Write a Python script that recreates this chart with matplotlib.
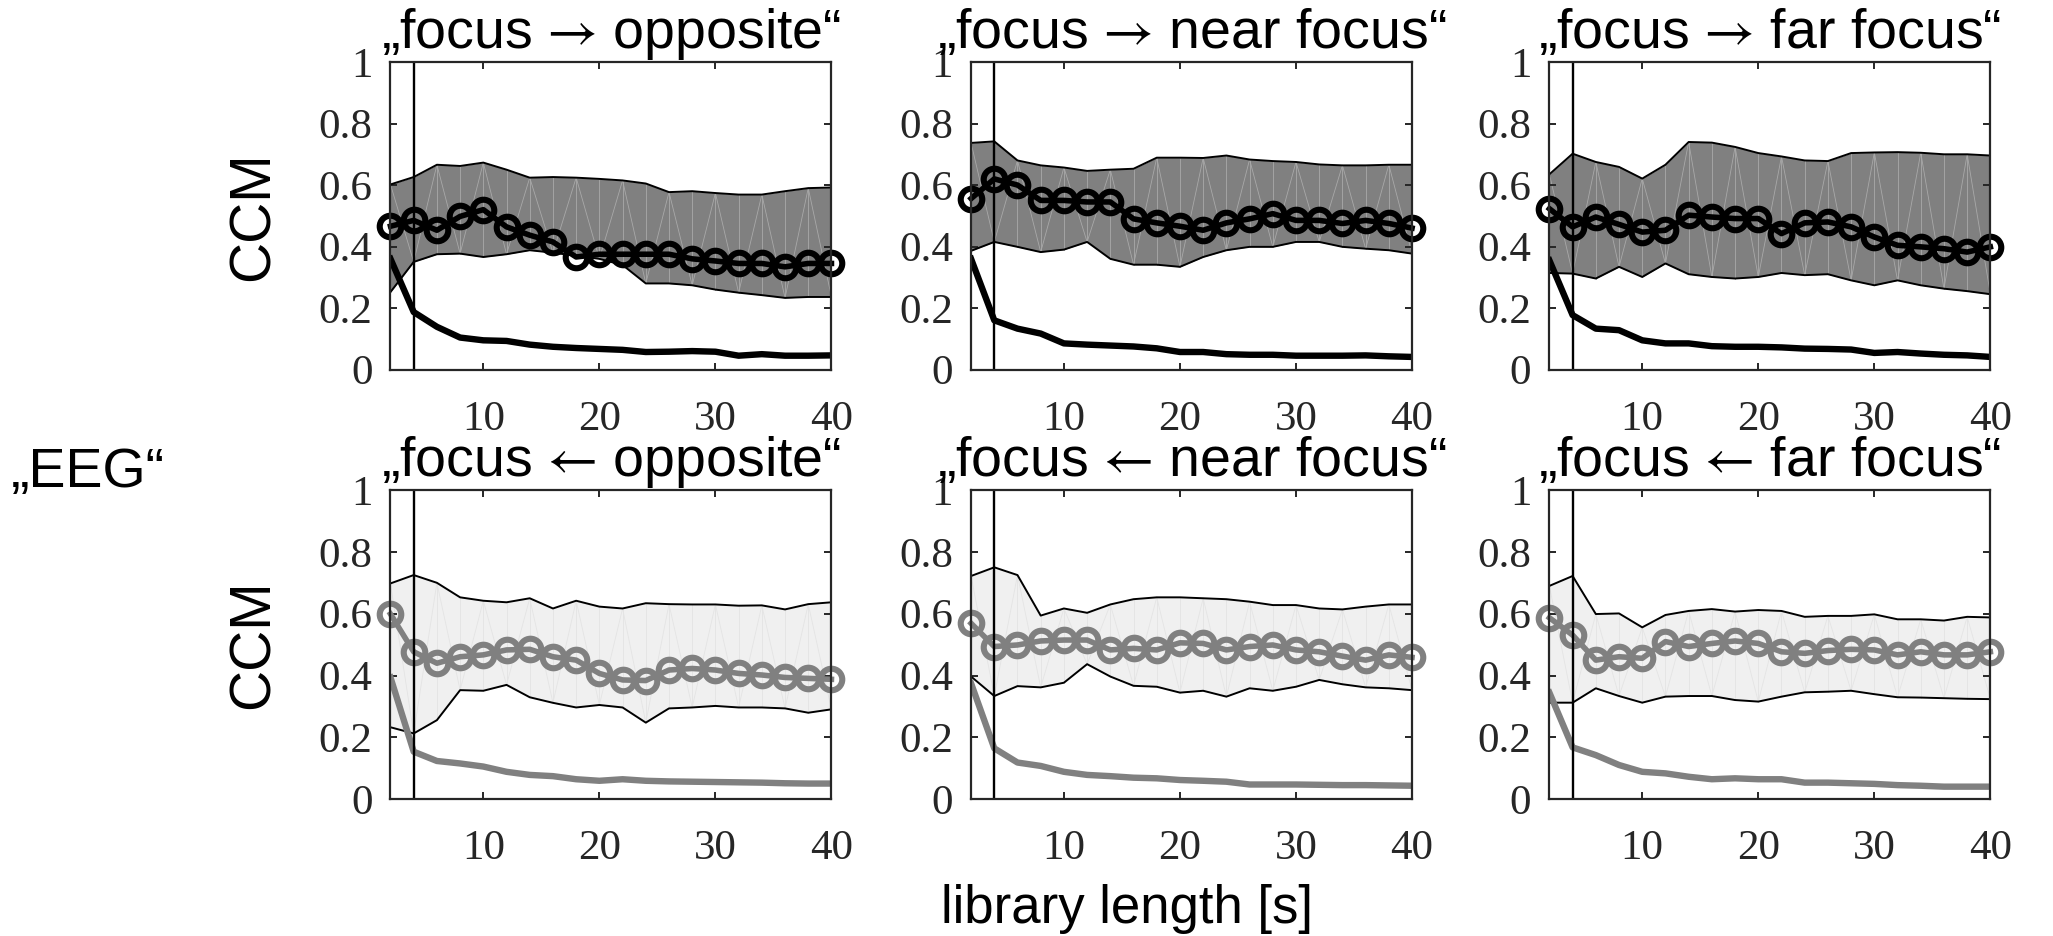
import matplotlib
matplotlib.use('Agg')
import matplotlib.pyplot as plt
import numpy as np

plt.rcParams['mathtext.fontset'] = 'stix'

# library length [s]
lib_len = [2, 4, 6, 8, 10, 12, 14, 16, 18, 20, 22, 24, 26, 28, 30, 32, 34, 36, 38, 40]

# "focus -> opposite"
fo_mean = [0.466, 0.485, 0.453, 0.498, 0.52, 0.464, 0.437, 0.415, 0.366, 0.375,
           0.375, 0.375, 0.375, 0.36, 0.353, 0.345, 0.345, 0.334, 0.345, 0.345]
fo_upper = [0.602, 0.626, 0.666, 0.662, 0.673, 0.65, 0.624, 0.626, 0.624, 0.62,
            0.615, 0.605, 0.577, 0.58, 0.574, 0.569, 0.569, 0.58, 0.59, 0.592]
fo_lower = [0.252, 0.35, 0.375, 0.377, 0.366, 0.375, 0.388, 0.38, 0.37, 0.36,
            0.34, 0.28, 0.28, 0.274, 0.26, 0.25, 0.242, 0.233, 0.236, 0.236]
fo_null = [0.36, 0.187, 0.139, 0.104, 0.095, 0.093, 0.081, 0.074, 0.07, 0.067,
           0.064, 0.057, 0.058, 0.06, 0.058, 0.045, 0.05, 0.045, 0.045, 0.046]

# "focus -> near focus"
fn_mean = [0.556, 0.62, 0.6, 0.55, 0.55, 0.545, 0.545, 0.49, 0.477, 0.466,
           0.453, 0.477, 0.49, 0.507, 0.485, 0.485, 0.475, 0.485, 0.475, 0.46]
fn_upper = [0.737, 0.742, 0.68, 0.664, 0.657, 0.646, 0.65, 0.653, 0.689, 0.689,
            0.688, 0.696, 0.683, 0.678, 0.675, 0.667, 0.664, 0.664, 0.666, 0.666]
fn_lower = [0.386, 0.415, 0.399, 0.382, 0.39, 0.415, 0.36, 0.341, 0.341, 0.334,
            0.366, 0.388, 0.399, 0.399, 0.415, 0.415, 0.399, 0.393, 0.388, 0.377]
fn_null = [0.36, 0.16, 0.133, 0.117, 0.085, 0.081, 0.078, 0.075, 0.069, 0.057,
           0.057, 0.05, 0.048, 0.048, 0.045, 0.045, 0.045, 0.046, 0.043, 0.041]

# "focus -> far focus"
ff_mean = [0.523, 0.464, 0.496, 0.472, 0.447, 0.453, 0.502, 0.496, 0.491, 0.491,
           0.442, 0.477, 0.48, 0.464, 0.431, 0.404, 0.399, 0.393, 0.382, 0.399]
ff_upper = [0.635, 0.702, 0.675, 0.659, 0.621, 0.666, 0.74, 0.738, 0.724, 0.704,
            0.693, 0.68, 0.678, 0.704, 0.706, 0.707, 0.705, 0.7, 0.7, 0.696]
ff_lower = [0.314, 0.312, 0.296, 0.334, 0.301, 0.345, 0.31, 0.301, 0.296, 0.301,
            0.314, 0.307, 0.31, 0.29, 0.274, 0.29, 0.274, 0.263, 0.255, 0.245]
ff_null = [0.355, 0.177, 0.133, 0.128, 0.095, 0.085, 0.085, 0.076, 0.074, 0.074,
           0.072, 0.068, 0.067, 0.065, 0.054, 0.057, 0.052, 0.048, 0.046, 0.041]

# "focus <- opposite"
bo_mean = [0.599, 0.477, 0.44, 0.461, 0.467, 0.483, 0.485, 0.461, 0.45, 0.407,
           0.386, 0.384, 0.418, 0.423, 0.418, 0.407, 0.402, 0.394, 0.391, 0.388]
bo_upper = [0.698, 0.725, 0.7, 0.653, 0.642, 0.637, 0.65, 0.617, 0.642, 0.623,
            0.617, 0.634, 0.631, 0.63, 0.63, 0.626, 0.627, 0.614, 0.631, 0.637]
bo_lower = [0.233, 0.213, 0.256, 0.353, 0.351, 0.37, 0.33, 0.312, 0.297, 0.305,
            0.297, 0.248, 0.294, 0.297, 0.302, 0.297, 0.297, 0.294, 0.28, 0.291]
bo_null = [0.394, 0.154, 0.124, 0.116, 0.106, 0.089, 0.079, 0.075, 0.065, 0.06,
           0.065, 0.06, 0.058, 0.057, 0.056, 0.055, 0.054, 0.052, 0.051, 0.051]

# "focus <- near focus"
bn_mean = [0.569, 0.494, 0.499, 0.512, 0.515, 0.515, 0.483, 0.488, 0.483, 0.506,
           0.504, 0.483, 0.494, 0.499, 0.483, 0.477, 0.463, 0.45, 0.467, 0.459]
bn_upper = [0.722, 0.75, 0.725, 0.594, 0.617, 0.603, 0.63, 0.647, 0.653, 0.653,
            0.65, 0.647, 0.639, 0.628, 0.628, 0.617, 0.614, 0.623, 0.63, 0.63]
bn_lower = [0.397, 0.334, 0.366, 0.362, 0.377, 0.437, 0.397, 0.367, 0.364, 0.345,
            0.351, 0.332, 0.359, 0.351, 0.364, 0.386, 0.372, 0.362, 0.359, 0.353]
bn_null = [0.375, 0.165, 0.119, 0.108, 0.089, 0.079, 0.075, 0.07, 0.068, 0.0625,
           0.06, 0.057, 0.048, 0.048, 0.048, 0.047, 0.046, 0.046, 0.045, 0.044]

# "focus <- far focus"
bf_mean = [0.587, 0.531, 0.45, 0.461, 0.456, 0.51, 0.494, 0.504, 0.512, 0.504,
           0.477, 0.472, 0.481, 0.485, 0.483, 0.467, 0.477, 0.467, 0.467, 0.477]
bf_upper = [0.69, 0.722, 0.599, 0.601, 0.556, 0.596, 0.609, 0.615, 0.607, 0.612,
            0.609, 0.59, 0.593, 0.593, 0.598, 0.582, 0.582, 0.578, 0.59, 0.588]
bf_lower = [0.3125, 0.3125, 0.359, 0.334, 0.3125, 0.332, 0.334, 0.334, 0.321, 0.316,
            0.332, 0.346, 0.348, 0.351, 0.34, 0.33, 0.329, 0.327, 0.325, 0.324]
bf_null = [0.345, 0.168, 0.143, 0.111, 0.089, 0.084, 0.073, 0.065, 0.068, 0.065,
           0.065, 0.054, 0.054, 0.052, 0.05, 0.046, 0.044, 0.041, 0.041, 0.041]

titles = ['„focus$\\,\\rightarrow\\,$opposite“', '„focus$\\,\\rightarrow\\,$near focus“',
          '„focus$\\,\\rightarrow\\,$far focus“', '„focus$\\,\\leftarrow\\,$opposite“',
          '„focus$\\,\\leftarrow\\,$near focus“', '„focus$\\,\\leftarrow\\,$far focus“']
panels = [(fo_mean, fo_upper, fo_lower, fo_null), (fn_mean, fn_upper, fn_lower, fn_null),
          (ff_mean, ff_upper, ff_lower, ff_null), (bo_mean, bo_upper, bo_lower, bo_null),
          (bn_mean, bn_upper, bn_lower, bn_null), (bf_mean, bf_upper, bf_lower, bf_null)]

fig = plt.figure(figsize=(20.53, 9.36), dpi=100)

col_left = [0.1902, 0.4730, 0.7547]
col_w = 0.2148
row_bottom = [0.6052, 0.1460]
row_h = [0.3285, 0.3305]

x = np.array(lib_len)
for k, (mean, upper, lower, null) in enumerate(panels):
    r, c = divmod(k, 3)
    ax = fig.add_axes([col_left[c], row_bottom[r], col_w, row_h[r]])
    upper, lower = np.array(upper), np.array(lower)
    if r == 0:
        fill_c, seam_c, mark_c = '#808080', '#a9a9a9', 'black'
    else:
        fill_c, seam_c, mark_c = '#f0f0f0', '#e4e4e4', '#808080'
    ax.fill_between(x, lower, upper, color=fill_c, lw=0, zorder=1)
    # rendering seams of the patch
    for i in range(len(x) - 1):
        ax.plot([x[i], x[i]], [lower[i], upper[i]], color=seam_c, lw=0.6, zorder=1.5)
        if i % 2 == 0:
            ax.plot([x[i], x[i + 1]], [upper[i], lower[i + 1]], color=seam_c, lw=0.6, zorder=1.5)
        else:
            ax.plot([x[i], x[i + 1]], [lower[i], upper[i + 1]], color=seam_c, lw=0.6, zorder=1.5)
    ax.plot(x, upper, color='black', lw=1.4, zorder=2)
    ax.plot(x, lower, color='black', lw=1.4, zorder=2)
    ax.plot(x, null, color=mark_c, lw=4.6, zorder=3)
    ax.plot(x, mean, color=mark_c, lw=4.0, marker='o', ms=15.5, mew=4.4,
            mfc='none', mec=mark_c, zorder=4, clip_on=False)
    ax.axvline(4, color='black', lw=1.7, zorder=5)

    ax.set_xlim(2, 40)
    ax.set_ylim(0, 1)
    ax.set_xticks([10, 20, 30, 40])
    ax.set_yticks([0, 0.2, 0.4, 0.6, 0.8, 1])
    ax.set_yticklabels(['0', '0.2', '0.4', '0.6', '0.8', '1'])
    ax.tick_params(direction='in', length=5, width=1.4, color='#262626',
                   top=True, right=True, labelsize=31, labelcolor='#262626')
    ax.tick_params(axis='x', pad=22)
    ax.tick_params(axis='y', pad=13)
    for lab in ax.get_xticklabels() + ax.get_yticklabels():
        lab.set_family('Liberation Serif')
    for s in ax.spines.values():
        s.set_linewidth(1.6)
        s.set_color('#262626')
        s.set_zorder(6)
    ax.set_title(titles[k], fontsize=40, family='Liberation Sans', pad=10)

    if c == 0:
        fig.text(0.1237, row_bottom[r] + row_h[r] / 2, 'CCM', rotation=90,
                 ha='center', va='center', fontsize=41, family='Liberation Sans')

fig.text(0.0054, 0.4797, '„EEG“', ha='left', va='baseline', fontsize=40,
         family='Liberation Sans')
fig.text(0.549, 0.0139, 'library length [s]', ha='center', va='baseline',
         fontsize=38, family='Liberation Sans')

fig.savefig('out.png', dpi=100)
